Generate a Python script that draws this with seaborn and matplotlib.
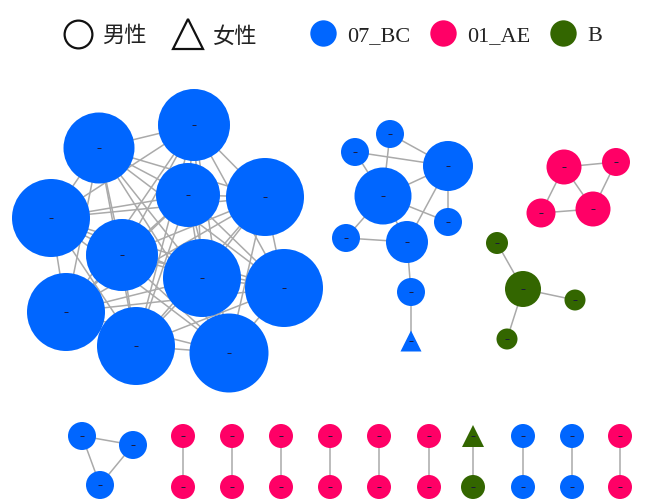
import numpy as np
import pandas as pd
import seaborn as sns
import matplotlib
matplotlib.use("Agg")
import matplotlib.pyplot as plt
from matplotlib.lines import Line2D

# ---------------- data ----------------
# node positions (pixel layout of the network), radii (px), subtype and sex
node_x = [99, 194, 51, 188, 265, 122, 202, 284, 66, 136, 229,          # big 07_BC cluster
          390, 355, 448, 383, 448, 346, 407, 411, 411,                  # mid 07_BC cluster
          564, 616, 541, 593,                                           # 01_AE cluster
          497, 523, 575, 507,                                           # B cluster
          82, 133, 100,                                                 # small 07_BC triangle
          183, 183, 232, 232, 281, 281, 330, 330, 379, 379, 429, 429,
          473, 473, 523, 523, 572, 572, 620, 620]                       # pairs
node_y = [149, 126, 219, 196, 198, 256, 279, 289, 313, 347, 354,
          135, 153, 167, 197, 223, 239, 243, 293, 342,
          168, 163, 214, 210,
          244, 290, 301, 340,
          437, 446, 486,
          437, 488, 437, 488, 437, 488, 437, 488, 437, 488, 437, 488,
          437, 488, 437, 488, 437, 488, 437, 488]
node_r = [35.5, 36, 39, 32, 39, 36, 39, 39, 39, 39, 39.5,
          14, 14, 25, 28.5, 14, 14, 21, 14, 10.5,
          17.5, 14, 14.5, 17.5,
          11, 18, 10.5, 10.5,
          14, 14, 14,
          12, 12, 12, 12, 12, 12, 12, 12, 12, 12, 12, 12,
          11, 12, 12, 12, 12, 12, 12, 12]
node_group = (["07_BC"] * 11 + ["07_BC"] * 9 + ["01_AE"] * 4 + ["B"] * 4 +
              ["07_BC"] * 3 + ["01_AE"] * 12 + ["B"] * 2 + ["07_BC"] * 4 +
              ["01_AE"] * 2)
node_sex = ["男性"] * 19 + ["女性"] + ["男性"] * 23 + ["女性"] + ["男性"] * 7

big = list(range(11))
edges = [(a, b) for i, a in enumerate(big) for b in big[i + 1:]]
edges += [(11, 13), (11, 14), (12, 13), (12, 14), (13, 14), (13, 17), (13, 15),
          (14, 15), (14, 16), (14, 17), (16, 17), (17, 18), (18, 19)]
edges += [(20, 21), (20, 22), (20, 23), (21, 23), (22, 23)]
edges += [(24, 25), (25, 26), (25, 27)]
edges += [(28, 29), (28, 30), (29, 30)]
edges += [(31 + 2 * k, 32 + 2 * k) for k in range(10)]

legend_sex = ["男性", "女性"]
legend_groups = ["07_BC", "01_AE", "B"]

# ---------------- style ----------------
palette = {"07_BC": "#0066ff", "01_AE": "#ff0066", "B": "#336600"}
sns.set_style("white")
plt.rcParams["font.family"] = ["Liberation Serif", "Noto Sans CJK SC", "DejaVu Sans"]

W, H = 646, 502
fig = plt.figure(figsize=(W / 100, H / 100), dpi=100)
ax = fig.add_axes([0, 0, 1, 1])

df = pd.DataFrame({"x": node_x, "y": node_y, "r": node_r,
                   "group": node_group, "sex": node_sex})

for u, v in edges:
    ax.plot(df.x.iloc[[u, v]], df.y.iloc[[u, v]], color="#aaaaaa", lw=1.1,
            zorder=1, solid_capstyle="butt")

sizes = {r: (1.44 * r) ** 2 for r in df.r.unique()}
sns.scatterplot(data=df, x="x", y="y", hue="group", style="sex", size="r",
                sizes=sizes, palette=palette, markers={"男性": "o", "女性": "^"},
                linewidth=0, legend=False, ax=ax, zorder=2)
sns.scatterplot(data=df, x="x", y="y", marker="_", s=9, color="#1a1a3a",
                linewidth=0.7, legend=False, ax=ax, zorder=3)

ax.set_xlim(0, W)
ax.set_ylim(H, 0)
ax.axis("off")

# ---------------- legends ----------------
sex_handles = [
    Line2D([], [], marker="o", ls="none", markerfacecolor="none",
           markeredgecolor="#111111", markeredgewidth=1.6, markersize=20),
    Line2D([], [], marker="^", ls="none", markerfacecolor="none",
           markeredgecolor="#111111", markeredgewidth=1.6, markersize=22),
]
leg1 = fig.legend(sex_handles, legend_sex, loc="center left",
                  bbox_to_anchor=(67 / W, 1 - 37 / H), ncol=2, frameon=False,
                  fontsize=16, handlelength=1.0, handletextpad=0.6,
                  columnspacing=1.35, borderpad=0, borderaxespad=0,
                  labelcolor="#222222")

grp_handles = [Line2D([], [], marker="o", ls="none", markerfacecolor=palette[g],
                      markeredgewidth=0, markersize=19) for g in legend_groups]
leg2 = fig.legend(grp_handles, legend_groups, loc="center left",
                  bbox_to_anchor=(312 / W, 1 - 36 / H), ncol=3, frameon=False,
                  fontsize=16, handlelength=1.0, handletextpad=0.6,
                  columnspacing=0.95, borderpad=0, borderaxespad=0,
                  labelcolor="#222222")

fig.savefig("out.png", dpi=100)
